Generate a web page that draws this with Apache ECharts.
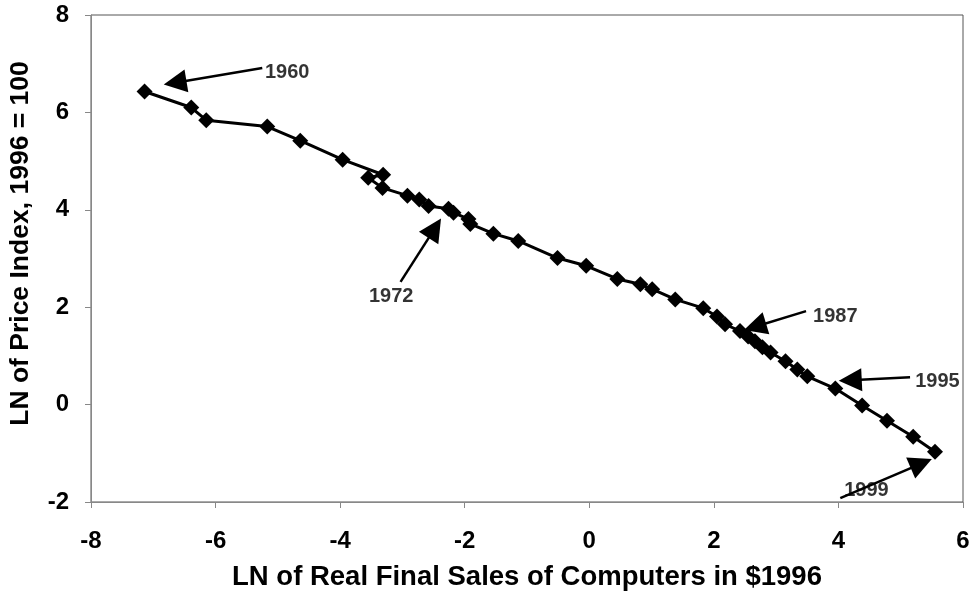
<!DOCTYPE html>
<html>
<head>
<meta charset="utf-8">
<script src="https://cdn.jsdelivr.net/npm/echarts@6/dist/echarts.min.js"></script>
<style>
  html, body { margin: 0; padding: 0; background: #fff; }
  #chart { width: 975px; height: 604px; }
</style>
</head>
<body>
<div id="chart"></div>
<script>
// LN of real final sales (x) vs LN of price index (y), 1960 .. 1999
const salesLn = [
  -7.14, -6.39, -6.15, -5.17, -4.64, -3.96, -3.31, -3.55, -3.32, -2.92,
  -2.73, -2.58, -2.26, -2.18, -1.94, -1.91, -1.54, -1.14, -0.51, -0.05,
  0.45, 0.82, 1.01, 1.38, 1.83, 2.05, 2.18, 2.42, 2.55, 2.66,
  2.78, 2.91, 3.15, 3.34, 3.50, 3.95, 4.38, 4.78, 5.20, 5.55
];
const priceLn = [
  6.43, 6.10, 5.84, 5.71, 5.42, 5.03, 4.72, 4.66, 4.45, 4.29,
  4.21, 4.08, 4.02, 3.94, 3.81, 3.71, 3.51, 3.36, 3.01, 2.85,
  2.58, 2.47, 2.37, 2.16, 1.98, 1.81, 1.65, 1.51, 1.40, 1.30,
  1.18, 1.07, 0.89, 0.72, 0.58, 0.33, -0.02, -0.33, -0.66, -0.97
];

// year callouts: label position, arrow start, arrow head (data units)
const noteYears = ['1960', '1972', '1987', '1995', '1999'];
const noteLabel = [[-4.85, 6.82], [-3.18, 2.21], [3.95, 1.81], [5.59, 0.47], [4.45, -1.77]];
const noteFrom  = [[-5.25, 6.91], [-3.03, 2.52], [3.48, 1.92], [5.15, 0.56], [4.03, -1.92]];
const noteTo    = [[-6.65, 6.61], [-2.48, 3.62], [2.66, 1.60], [4.19, 0.50], [5.33, -1.21]];

const xTicks = [-8, 6, 2];  // min, max, step
const yTicks = [-2, 8, 2];

const points = salesLn.map((x, i) => [x, priceLn[i]]);
const font = 'Liberation Sans, Arial, sans-serif';

const chart = echarts.init(document.getElementById('chart'));
chart.setOption({
  animation: false,
  backgroundColor: '#fff',
  grid: {
    left: 91, right: 12, top: 15, bottom: 102,
    outerBoundsMode: 'none',
    containLabel: false,
    show: true, borderColor: '#555', borderWidth: 1
  },
  xAxis: {
    type: 'value',
    min: xTicks[0], max: xTicks[1], interval: xTicks[2],
    name: 'LN of Real Final Sales of Computers in $1996',
    nameLocation: 'middle', nameGap: 61,
    nameTextStyle: { fontFamily: font, fontWeight: 'bold', fontSize: 27.5, color: '#000' },
    axisLine: { onZero: false, lineStyle: { color: '#888' } },
    axisTick: { show: true, length: 6, lineStyle: { color: '#888' } },
    axisLabel: { fontFamily: font, fontWeight: 'bold', fontSize: 24, color: '#000', margin: 27 },
    splitLine: { show: false }
  },
  yAxis: {
    type: 'value',
    min: yTicks[0], max: yTicks[1], interval: yTicks[2],
    name: 'LN of Price Index, 1996 = 100',
    nameLocation: 'middle', nameGap: 57,
    // pushes the title a little above the middle, as in the source
    nameTextStyle: { fontFamily: font, fontWeight: 'bold', fontSize: 26.5, color: '#000', padding: [0, 0, 0, 30] },
    axisLine: { show: true, onZero: false, lineStyle: { color: '#888' } },
    axisTick: { show: true, length: 6, lineStyle: { color: '#888' } },
    axisLabel: { fontFamily: font, fontWeight: 'bold', fontSize: 24, color: '#000', margin: 22 },
    splitLine: { show: false }
  },
  series: [
    {
      type: 'line',
      data: points,
      symbol: 'diamond',
      symbolSize: 16,
      showAllSymbol: true,
      lineStyle: { color: '#000', width: 3 },
      itemStyle: { color: '#000' },
      markLine: {
        silent: true,
        symbol: ['none', 'triangle'],
        symbolSize: 23,
        label: { show: false },
        lineStyle: { color: '#000', width: 2.5, type: 'solid' },
        data: noteYears.map((y, i) => [
          { coord: noteFrom[i] },
          { coord: noteTo[i] }
        ])
      }
    },
    {
      type: 'scatter',
      data: noteYears.map((y, i) => [noteLabel[i][0], noteLabel[i][1], y]),
      symbolSize: 0,
      silent: true,
      label: {
        show: true,
        position: 'inside',
        formatter: p => p.value[2],
        fontFamily: font, fontWeight: 'bold', fontSize: 20, color: '#000'
      }
    }
  ]
});
</script>
</body>
</html>
